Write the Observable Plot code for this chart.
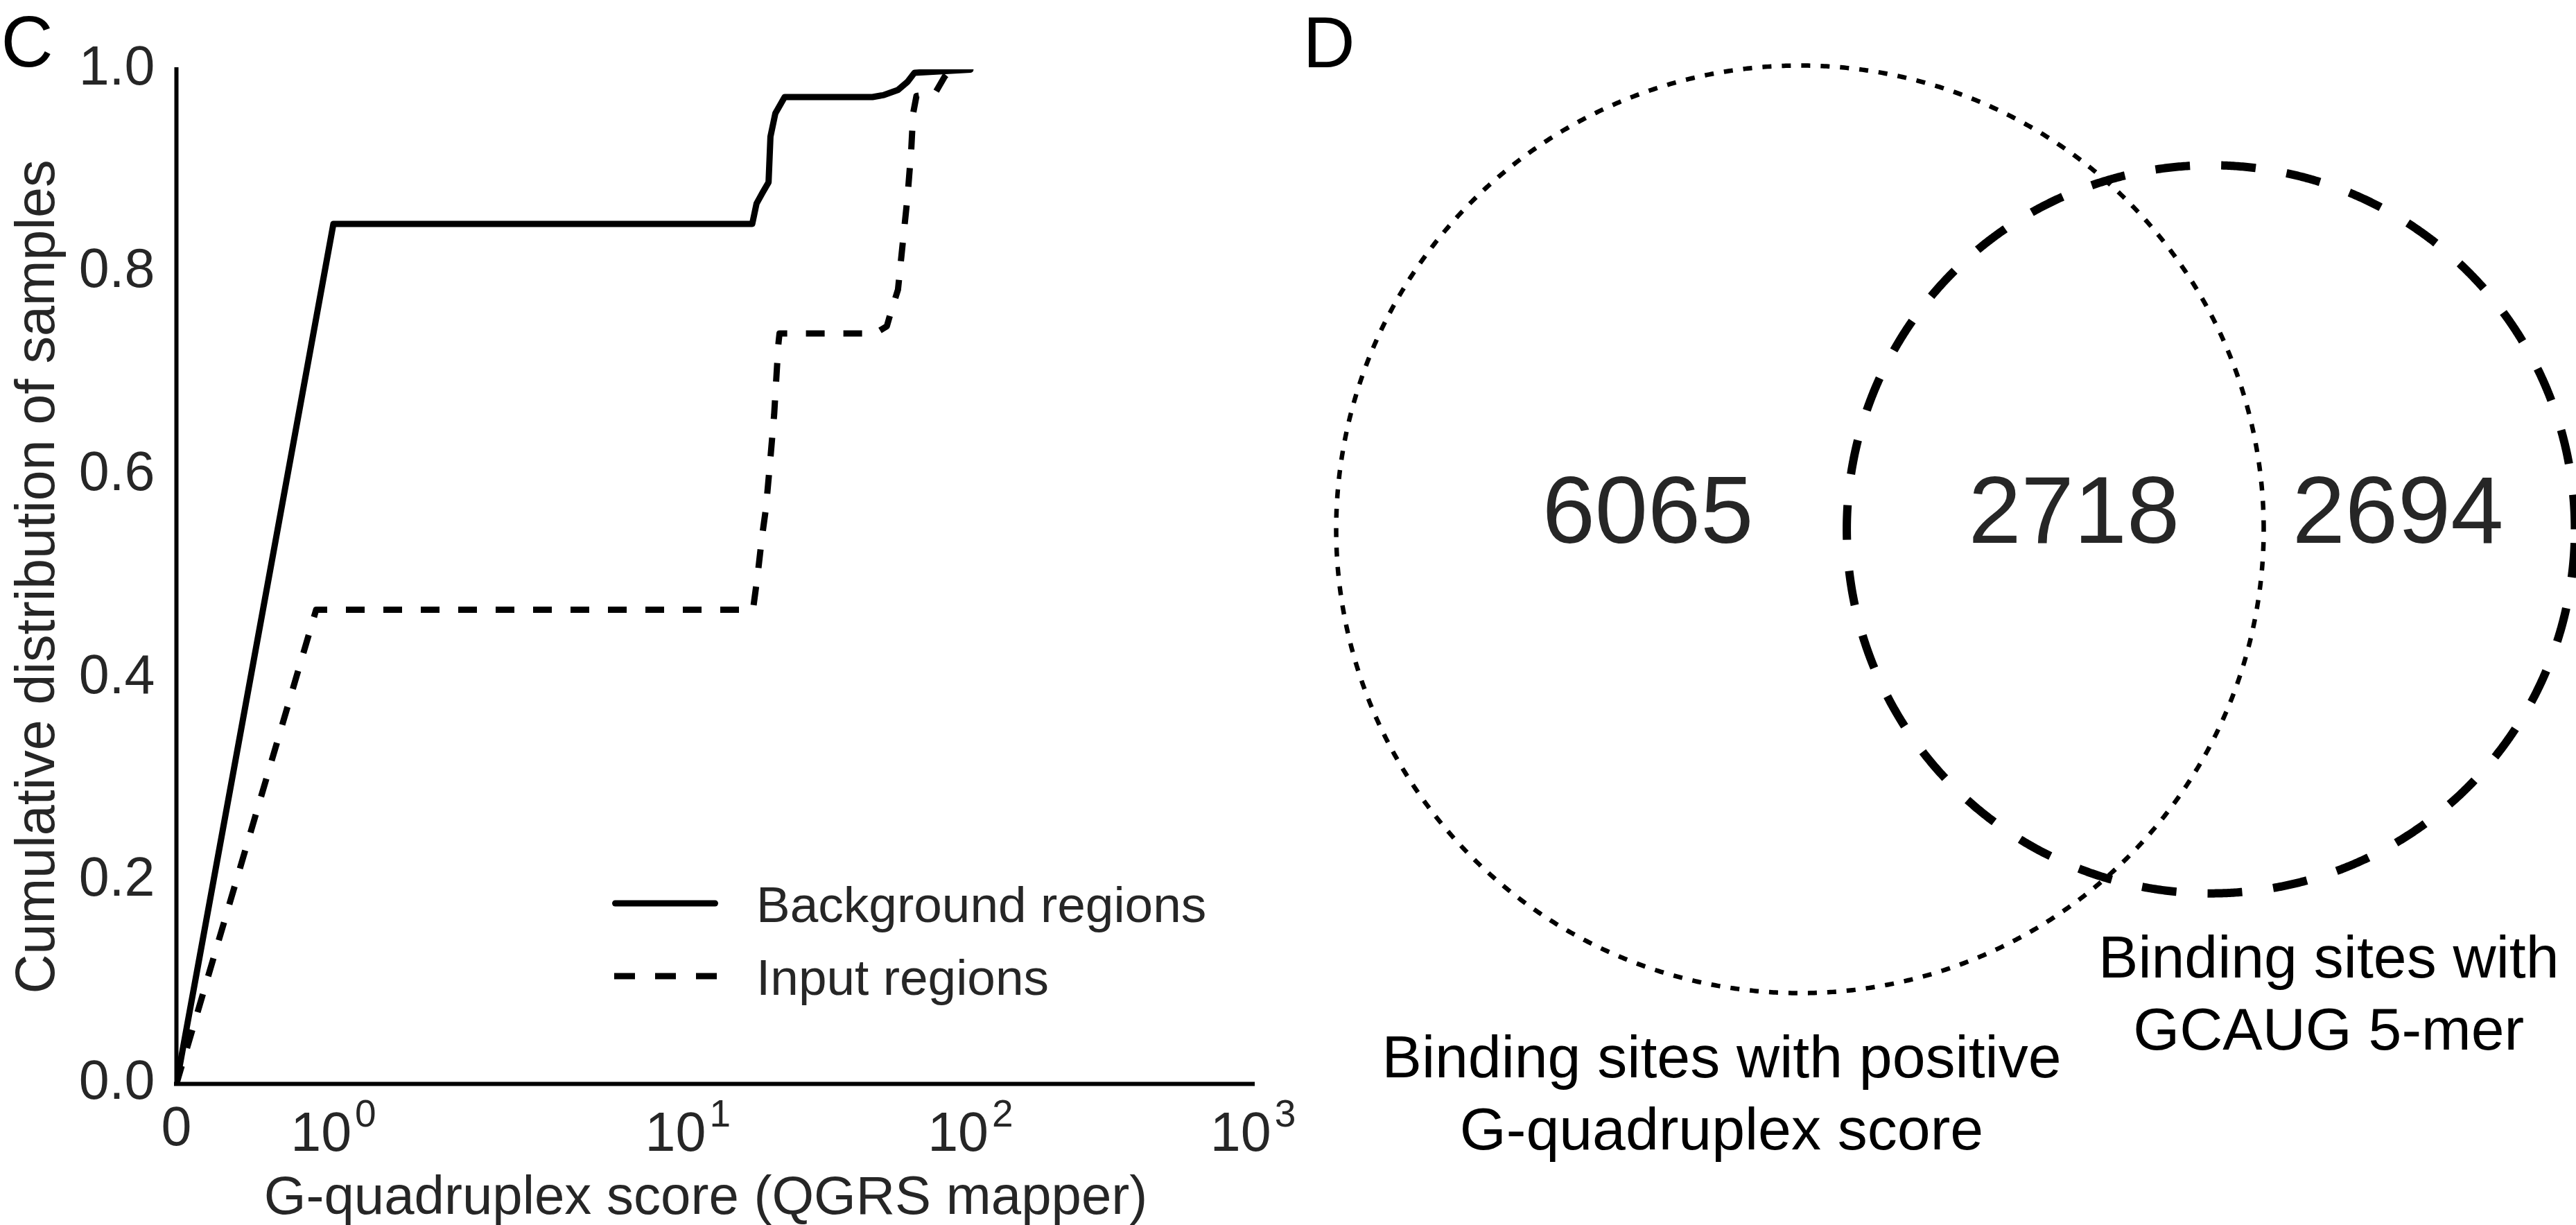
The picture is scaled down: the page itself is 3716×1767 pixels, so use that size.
<!DOCTYPE html>
<html>
<head>
<meta charset="utf-8">
<script src="https://cdn.jsdelivr.net/npm/d3@7"></script>
<script src="https://cdn.jsdelivr.net/npm/@observablehq/plot@0.6"></script>
<style>
  html, body { margin: 0; padding: 0; background: #ffffff; }
  #fig { position: relative; width: 3716px; height: 1767px; overflow: hidden; background: #ffffff; }
  #fig > svg, #fig > figure { position: absolute; margin: 0; }
</style>
</head>
<body>
<div id="fig"></div>
<script>
// ---------------- DATA ----------------
const panelLetters = ["C", "D"];
const seriesNames = ["Background regions", "Input regions"];
const xTickValues = [0, 1, 10, 100, 1000];
const xTickLabels = ["0", "10^0", "10^1", "10^2", "10^3"];
const yTickValues = [0, 0.2, 0.4, 0.6, 0.8, 1.0];
const xAxisLabel = "G-quadruplex score (QGRS mapper)";
const yAxisLabel = "Cumulative distribution of samples";

const backgroundScore = [0, 1.0, 16.9, 17.5, 18.4, 19.3, 19.6, 20.4, 22.0, 45.0, 49.4, 55.4, 59.9, 63.4, 100];
const backgroundCdf   = [0, 0.848, 0.848, 0.868, 0.879, 0.889, 0.934, 0.957, 0.973, 0.973, 0.975, 0.980, 0.988, 0.997, 1.0];

const inputScore = [0, 0.89, 17.0, 17.66, 18.25, 18.88, 19.54, 20.2, 20.9, 21.1, 46, 50.6, 52.3, 55.4, 57.6, 59.9, 61.7, 62.7, 64.4, 75, 81, 85];
const inputCdf   = [0, 0.4675, 0.4675, 0.502, 0.537, 0.567, 0.613, 0.660, 0.729, 0.740, 0.740, 0.747, 0.761, 0.783, 0.829, 0.875, 0.920, 0.957, 0.974, 0.977, 0.993, 1.0];

// Venn: [only positive G-quadruplex score, both, only GCAUG 5-mer]
const vennRegionCounts = [6065, 2718, 2694];
const vennSetLabels = ["Binding sites with positive\nG-quadruplex score", "Binding sites with\nGCAUG 5-mer"];

// ---------------- HELPERS ----------------
const fontFamily = "'Liberation Sans', Arial, Helvetica, sans-serif";
const textGray = "#262626";
const fig = document.getElementById("fig");

// matplotlib-style symlog (linthresh = 2, linscale = 1), in decades
const LINTHRESH = 2, LINSCALE = 1, LINSCALE_ADJ = LINSCALE / (1 - 1 / 10);
function symlog(v) {
  const a = Math.abs(v), s = Math.sign(v);
  return a <= LINTHRESH ? s * (a / LINTHRESH) * LINSCALE_ADJ : s * (LINSCALE_ADJ + Math.log10(a / LINTHRESH));
}

const background = backgroundScore.map((s, i) => ({series: seriesNames[0], score: s, cdf: backgroundCdf[i]}));
const input = inputScore.map((s, i) => ({series: seriesNames[1], score: s, cdf: inputCdf[i]}));

// ---------------- PANEL C ----------------
const plotC = Plot.plot({
  width: 1850,
  height: 1767,
  marginLeft: 254,
  marginRight: 43,
  marginTop: 100,
  marginBottom: 204,
  style: {fontFamily, background: "transparent", overflow: "visible"},
  x: {type: "linear", transform: symlog, domain: [symlog(0), symlog(1000)]},
  y: {domain: [0, 1]},
  marks: [
    Plot.axisY({
      ticks: yTickValues, tickFormat: d => d.toFixed(1), tickSize: 0, tickPadding: 31,
      fontSize: 79, color: textGray, dy: -4, label: null
    }),
    Plot.axisX({
      ticks: xTickValues.map(symlog),
      tickFormat: d => xTickLabels[xTickValues.findIndex(v => Math.abs(symlog(v) - d) < 1e-9)],
      tickSize: 0, tickPadding: 32, fontSize: 79, color: textGray, label: null
    }),
    Plot.line(background, {x: "score", y: "cdf", stroke: "black", strokeWidth: 9,
      strokeLinejoin: "round", strokeLinecap: "round", clip: true}),
    Plot.line(input, {x: "score", y: "cdf", stroke: "black", strokeWidth: 9,
      strokeDasharray: "27 27", strokeLinecap: "butt", strokeLinejoin: "round", clip: true}),
    Plot.ruleX([0], {stroke: "black", strokeWidth: 6, strokeLinecap: "square"}),
    Plot.ruleY([0], {stroke: "black", strokeWidth: 6, strokeLinecap: "square"}),
    Plot.text([yAxisLabel], {frameAnchor: "left", rotate: -90, dx: -177, textAnchor: "middle",
      lineAnchor: "bottom", fontSize: 79, fill: textGray}),
    Plot.text([xAxisLabel], {frameAnchor: "bottom", dy: 187, dx: -13, textAnchor: "middle",
      lineAnchor: "bottom", fontSize: 78, fill: textGray}),
    Plot.text([panelLetters[0]], {frameAnchor: "top-left", dx: -253, dy: -5, textAnchor: "start",
      lineAnchor: "bottom", fontSize: 104, fill: "black"})
  ]
});
plotC.style.left = "0px";
plotC.style.top = "0px";
fig.appendChild(plotC);

// superscript exponents on the x tick labels
const SVGNS = "http://www.w3.org/2000/svg";
plotC.querySelectorAll("text").forEach(t => {
  const m = /^(\d+)\^(\d+)$/.exec(t.textContent);
  if (!m) return;
  t.textContent = "";
  const base = document.createElementNS(SVGNS, "tspan");
  base.setAttribute("dy", "8");
  base.textContent = m[1];
  const sup = document.createElementNS(SVGNS, "tspan");
  sup.setAttribute("dy", "-35");
  sup.setAttribute("dx", "5");
  sup.setAttribute("font-size", "55");
  sup.textContent = m[2];
  t.appendChild(base);
  t.appendChild(sup);
});

// legend (inside the axes, lower right)
const legendItems = [
  {name: seriesNames[0], dash: null, cap: "round"},
  {name: seriesNames[1], dash: "30 29", cap: "butt"}
];
const legend = d3.create("svg")
  .attr("width", 1850).attr("height", 1767)
  .style("left", "0px").style("top", "0px").style("pointer-events", "none")
  .style("font-family", fontFamily);
legendItems.forEach((it, i) => {
  const y = 1303 + i * 105;
  legend.append("line")
    .attr("x1", it.dash ? 886 : 887.5).attr("x2", it.dash ? 1034 : 1031.5)
    .attr("y1", y).attr("y2", y)
    .attr("stroke", "black").attr("stroke-width", 9)
    .attr("stroke-linecap", it.cap)
    .attr("stroke-dasharray", it.dash);
  legend.append("text")
    .attr("x", 1091).attr("y", y + 26.5)
    .attr("font-size", 73).attr("fill", textGray)
    .text(it.name);
});
fig.appendChild(legend.node());

// ---------------- PANEL D (area-proportional Venn) ----------------
const [onlyA, both, onlyB] = vennRegionCounts;
const rA = Math.sqrt((onlyA + both) / Math.PI);
const rB = Math.sqrt((onlyB + both) / Math.PI);
function lensArea(d) {
  const a1 = Math.acos((d * d + rA * rA - rB * rB) / (2 * d * rA));
  const a2 = Math.acos((d * d + rB * rB - rA * rA) / (2 * d * rB));
  return rA * rA * (a1 - Math.sin(2 * a1) / 2) + rB * rB * (a2 - Math.sin(2 * a2) / 2);
}
let lo = Math.abs(rA - rB) + 1e-9, hi = rA + rB - 1e-9;
for (let i = 0; i < 200; i++) {
  const mid = (lo + hi) / 2;
  if (lensArea(mid) > both) lo = mid; else hi = mid;
}
const dist = (lo + hi) / 2;
const cA = 0, cB = dist;
// half-angles of the intersection points as seen from each centre
const alphaA = Math.acos((dist * dist + rA * rA - rB * rB) / (2 * dist * rA));
const alphaB = Math.acos((dist * dist + rB * rB - rA * rA) / (2 * dist * rB));
// label positions: mean point of the convex arcs bounding each region
const xOnlyA = cA - rA * Math.sin(alphaA) / (Math.PI - alphaA);
const xOnlyB = cB + rB * Math.sin(alphaB) / (Math.PI - alphaB);
const xBoth = ((cA + rA * Math.sin(alphaA) / alphaA) + (cB - rB * Math.sin(alphaB) / alphaB)) / 2;
const regionLabels = [
  {x: xOnlyA, y: 0, text: String(onlyA)},
  {x: xBoth, y: 0, text: String(both)},
  {x: xOnlyB, y: 0, text: String(onlyB)}
];
const angles = d3.range(0, 1441).map(i => (2 * Math.PI * i) / 1440);
const circleA = angles.map(a => ({x: cA + rA * Math.cos(a), y: rA * Math.sin(a)}));
const circleB = angles.map(a => ({x: cB + rB * Math.cos(a), y: rB * Math.sin(a)}));

const vennLeft = 1850, vennWidth = 1866, vennHeight = 1767;
const vTop = 94, vBottom = 335, vLeft = 77;
const pxPerUnit = (vennHeight - vTop - vBottom) / (2 * rA);
const vRight = vennWidth - vLeft - pxPerUnit * (rA + dist + rB);

const plotD = Plot.plot({
  width: vennWidth,
  height: vennHeight,
  marginTop: vTop,
  marginBottom: vBottom,
  marginLeft: vLeft,
  marginRight: vRight,
  style: {fontFamily, background: "transparent", overflow: "visible"},
  x: {domain: [cA - rA, cB + rB], axis: null},
  y: {domain: [-rA, rA], axis: null},
  marks: [
    Plot.line(circleA, {x: "x", y: "y", stroke: "black", strokeWidth: 6.5,
      strokeDasharray: "13 15", strokeLinecap: "butt"}),
    Plot.line(circleB, {x: "x", y: "y", stroke: "black", strokeWidth: 12,
      strokeDasharray: "50 45", strokeLinecap: "butt"}),
    Plot.text(regionLabels, {x: "x", y: "y", text: "text", fontSize: 137, fill: textGray,
      lineAnchor: "bottom", textAnchor: "middle", dy: 19}),
    Plot.text([{x: cA, y: -rA, text: vennSetLabels[0]}], {x: "x", y: "y", text: "text",
      fontSize: 86, fill: "black", lineAnchor: "top", lineHeight: 1.21, textAnchor: "middle", dx: -113, dy: 47.5}),
    Plot.text([{x: cB, y: -rB, text: vennSetLabels[1]}], {x: "x", y: "y", text: "text",
      fontSize: 86, fill: "black", lineAnchor: "top", lineHeight: 1.21, textAnchor: "middle", dx: 170, dy: 47.5}),
    Plot.text([panelLetters[1]], {frameAnchor: "top-left", dx: -48, dy: 2, textAnchor: "start",
      lineAnchor: "bottom", fontSize: 104, fill: "black"})
  ]
});
plotD.style.left = vennLeft + "px";
plotD.style.top = "0px";
fig.appendChild(plotD);
</script>
</body>
</html>
